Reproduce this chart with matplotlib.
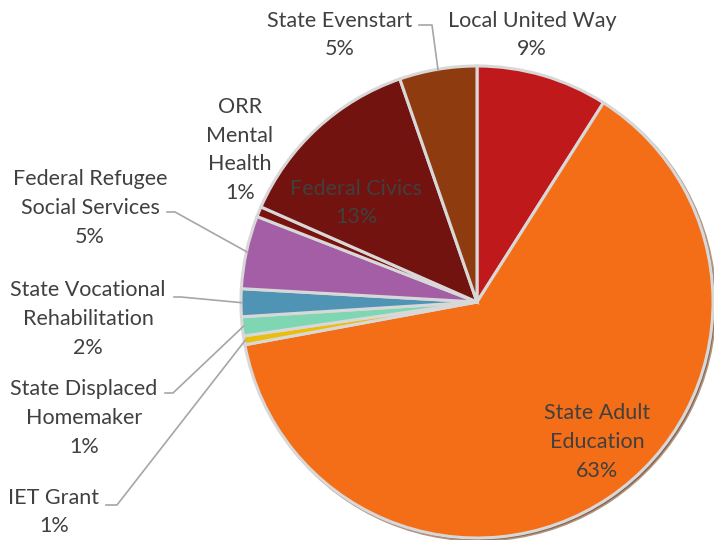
#funding sources pie chart

from matplotlib import pyplot as plt
import numpy as np

plt.rcParams['font.family'] = ['Lato', 'DejaVu Sans']

names = ['Local United Way', 'State Adult\nEducation', 'IET Grant', 'State Displaced\nHomemaker',
         'State Vocational\nRehabilitation', 'Federal Refugee\nSocial Services', 'ORR\nMental\nHealth',
         'Federal Civics', 'State Evenstart']
shares = [9.0, 63.1, 0.6, 1.3, 1.9, 5.0, 0.7, 13.1, 5.3]
colors = ['#C0191C', '#F46D17', '#E9BE0E', '#7ED6B2', '#4F93B5', '#A45EA6', '#7A1210', '#72130F', '#8E3B0F']

H = 540  # image height, used to flip y so positions read like the picture

# label centre (x, y from top), leader elbow (x, y) or None
label_pos = [(532, 35), (597, 442), (54, 512), (84, 418), (88, 319), (90, 208), (240, 150), (356, 203), (340, 35)]
elbows = [None, None, ((106, 505), (117, 505)), ((165, 393), (173, 393)), ((174, 297), (181, 297)),
          ((167, 212), (175, 212)), None, None, ((419, 25), (432, 25))]

fig = plt.figure(figsize=(7.14, 5.4), dpi=100)
ax = fig.add_axes([0, 0, 1, 1])

cx, cy, R = 477, H - 302, 236
explode = [0.012] * len(shares)
explode[1] = 0.02
wedges, _ = ax.pie(shares, colors=colors, startangle=90, counterclock=False,
                   center=(cx, cy), radius=R, explode=explode,
                   wedgeprops=dict(edgecolor='#D8D8D8', linewidth=2.2),
                   shadow=dict(ox=1.5, oy=-1.5, shade=0.6))

txt = '#404040'
for w, name, v, (lx, ly), el in zip(wedges, names, shares, label_pos, elbows):
    s = name + '\n' + f'{v:.0f}%'
    ax.text(lx, H - ly, s, ha='center', va='center', fontsize=15.5, color=txt,
            linespacing=1.55)
    if el is not None:
        # leader goes to the outer edge of the slice at its mid angle
        mid = np.radians((w.theta1 + w.theta2) / 2)
        wx, wy = w.center
        ex, ey = wx + R * 0.995 * np.cos(mid), wy + R * 0.995 * np.sin(mid)
        (x0, y0), (x1, y1) = el
        ax.plot([x0, x1, ex], [H - y0, H - y1, ey], color='#A6A6A6', lw=1.2, zorder=5)

ax.set_xlim(0, 714)
ax.set_ylim(0, H)
ax.set_aspect('equal')
ax.axis('off')

plt.savefig('out.png', dpi=100)
